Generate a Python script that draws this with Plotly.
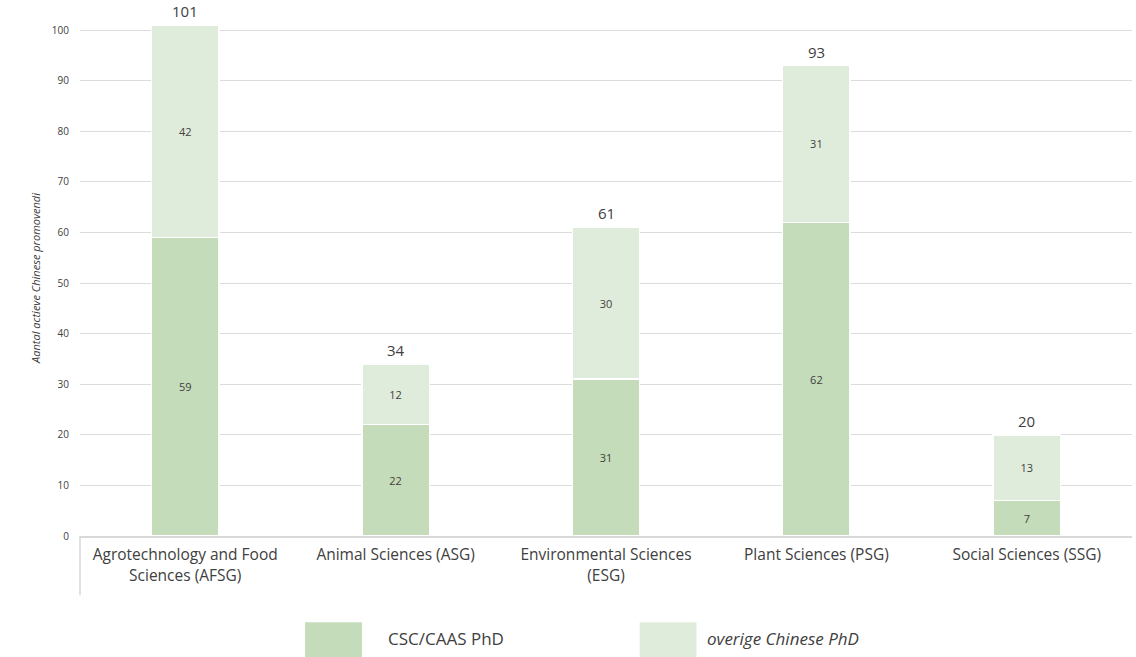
import plotly.graph_objects as go

categories = ["Agrotechnology and Food<br>Sciences (AFSG)", "Animal Sciences (ASG)",
              "Environmental Sciences<br>(ESG)", "Plant Sciences (PSG)", "Social Sciences (SSG)"]
csc_caas = [59, 22, 31, 62, 7]
overige = [42, 12, 30, 31, 13]
totals = [101, 34, 61, 93, 20]
series_names = ["CSC/CAAS PhD", "overige Chinese PhD"]
colors = ["#c4dcb9", "#e0ecdb"]
y_ticks = [0, 10, 20, 30, 40, 50, 60, 70, 80, 90, 100]

FONT = "Open Sans"
fig = go.Figure()
for vals, name, col in [(csc_caas, series_names[0], colors[0]), (overige, series_names[1], colors[1])]:
    fig.add_trace(go.Bar(
        x=categories, y=vals, name=name,
        marker=dict(color=col, line=dict(color="white", width=1.5)),
        text=[str(v) for v in vals], textposition="inside", insidetextanchor="middle",
        textfont=dict(size=11, color="#404040", family=FONT),
        width=0.32, showlegend=False, cliponaxis=False,
    ))

for c, t in zip(categories, totals):
    fig.add_annotation(x=c, y=t, text=str(t), showarrow=False, yanchor="bottom", yshift=2,
                       font=dict(size=15, color="#404040", family=FONT))

# manual legend
leg = [(0.214, 0.291, series_names[0], "normal"), (0.532, 0.594, series_names[1], "italic")]
for (x0, xt, name, style), col in zip(leg, colors):
    fig.add_shape(type="rect", xref="paper", yref="paper", x0=x0, x1=x0 + 0.054,
                  y0=-0.236, y1=-0.167, fillcolor=col, line=dict(width=0), layer="above")
    fig.add_annotation(xref="paper", yref="paper", x=xt, y=-0.198, text=name,
                       showarrow=False, xanchor="left", yanchor="middle",
                       font=dict(size=17, color="#404040", family=FONT, style=style))

# left divider line like the category axis frame
fig.add_shape(type="line", xref="paper", yref="paper", x0=0, x1=0, y0=0, y1=-0.115,
              line=dict(color="#d9d9d9", width=1.5))

fig.update_layout(
    barmode="stack",
    width=1136, height=657,
    margin=dict(l=80, r=4, t=20, b=121, autoexpand=False),
    plot_bgcolor="white", paper_bgcolor="white",
    font=dict(family=FONT, color="#404040"),
    showlegend=False,
    xaxis=dict(tickfont=dict(size=15.5, color="#404040"), showgrid=False, automargin=False,
               showline=True, linecolor="#d9d9d9", linewidth=1.5, ticks="", ticklen=0,
               ticklabelstandoff=4),
    yaxis=dict(range=[0, 102], tickvals=y_ticks, tickfont=dict(size=10, color="#404040"),
               showgrid=True, gridcolor="#dcdcdc", gridwidth=1.2, zeroline=False, automargin=False,
               ticks="outside", ticklen=8, tickcolor="white",
               title=dict(text="<i>Aantal actieve Chinese promovendi</i>", font=dict(size=11, color="#404040"),
                          standoff=8)),
)

fig.write_html("out.html", config={"displayModeBar": False},
               post_script="document.body.style.margin='0';document.body.style.overflow='hidden';")
